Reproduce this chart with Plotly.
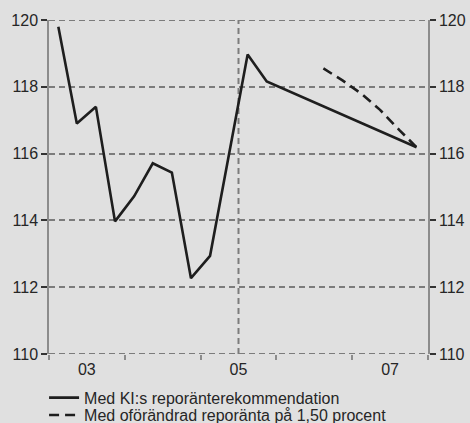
import plotly.graph_objects as go

# Data (quarterly)
dates_ki = ["2003-02-15", "2003-05-15", "2003-08-15", "2003-11-15",
            "2004-02-15", "2004-05-15", "2004-08-15", "2004-11-15",
            "2005-02-15", "2005-08-15", "2005-11-15", "2007-11-07"]
vals_ki = [119.80, 116.90, 117.40, 113.97,
           114.72, 115.71, 115.43, 112.27,
           112.94, 118.97, 118.16, 116.19]

dates_flat = ["2006-08-15", "2006-11-15", "2007-02-15", "2007-05-15",
              "2007-08-15", "2007-11-07"]
vals_flat = [118.55, 118.19, 117.79, 117.31, 116.71, 116.19]

name_ki = "Med KI:s reporänterekommendation"
name_flat = "Med oförändrad reporänta på 1,50 procent"

y_ticks = [110, 112, 114, 116, 118, 120]
x_label_pos = ["2003-07-02", "2005-07-02", "2007-07-02"]
x_label_text = ["03", "05", "07"]
year_starts = ["2003-01-01", "2004-01-01", "2005-01-01", "2006-01-01",
               "2007-01-01", "2008-01-01"]
vline_x = "2005-07-02"

BG = "#e0e0e0"
GRID = "#7c7c7c"
AXIS = "#8c8c8c"
TXT = "#262626"
LINE = "#1e1e1e"
FONT = "Liberation Sans, Arial, sans-serif"

fig = go.Figure()
fig.add_trace(go.Scatter(x=dates_ki, y=vals_ki, mode="lines", name=name_ki,
                         line=dict(color=LINE, width=2.6), legend="legend"))
fig.add_trace(go.Scatter(x=dates_flat, y=vals_flat, mode="lines", name=name_flat,
                         line=dict(color=LINE, width=2.6, dash="10px,6px"),
                         legend="legend2"))

grid_dash = dict(color=GRID, width=2, dash="6px,4px")
fig.add_shape(type="line", xref="x", yref="paper", x0=vline_x, x1=vline_x,
              y0=0, y1=1, line=grid_dash, layer="below")
# dashed gridlines at the range edges (top and bottom)
for yv in (y_ticks[0], y_ticks[-1]):
    fig.add_shape(type="line", xref="paper", yref="y", x0=0, x1=1,
                  y0=yv, y1=yv, line=grid_dash, layer="below")

leg_common = dict(xanchor="left", yanchor="middle", orientation="v",
                  bgcolor="rgba(0,0,0,0)", font=dict(size=16, color=TXT),
                  itemwidth=30)

fig.update_layout(
    width=470, height=423,
    margin=dict(l=49, r=42, t=20, b=69, autoexpand=False),
    paper_bgcolor=BG, plot_bgcolor=BG,
    font=dict(family=FONT, size=16, color=TXT),
    showlegend=True,
    legend=dict(x=-0.013, y=-0.131, **leg_common),
    legend2=dict(x=-0.013, y=-0.183, **leg_common),
    xaxis=dict(type="date", range=["2003-01-01", "2008-01-01"],
               tickvals=x_label_pos, ticktext=x_label_text,
               ticks="", showgrid=False, zeroline=False, showline=False,
               ticklabelstandoff=4,
               tickfont=dict(size=16, color=TXT), automargin=False,
               minor=dict(tickvals=year_starts, ticks="outside", ticklen=5,
                          tickcolor=AXIS, tickwidth=1.5, showgrid=False)),
    yaxis=dict(range=[110, 120], tickvals=y_ticks, ticks="outside",
               ticklen=6, tickcolor="#333333", tickwidth=1.5,
               showgrid=True, gridcolor=GRID, gridwidth=2, griddash="6px,4px",
               showline=True, linecolor=AXIS, linewidth=1.5, automargin=False,
               zeroline=False, tickfont=dict(size=16, color=TXT)),
    yaxis2=dict(range=[110, 120], tickvals=y_ticks, ticks="outside",
                ticklen=6, tickcolor="#333333", tickwidth=1.5,
                overlaying="y", side="right", showgrid=False, automargin=False,
                showline=True, linecolor=AXIS, linewidth=1.5,
                zeroline=False, tickfont=dict(size=16, color=TXT)),
)
# invisible trace to anchor the right axis
fig.add_trace(go.Scatter(x=[dates_ki[0]], y=[vals_ki[0]], yaxis="y2",
                         mode="markers", marker=dict(opacity=0),
                         showlegend=False, hoverinfo="skip"))

fig.write_html("out.html", config={"displayModeBar": False},
               post_script="document.body.style.margin='0';"
                           "document.body.style.overflow='hidden';"
                           "document.body.style.background='#e0e0e0';")
